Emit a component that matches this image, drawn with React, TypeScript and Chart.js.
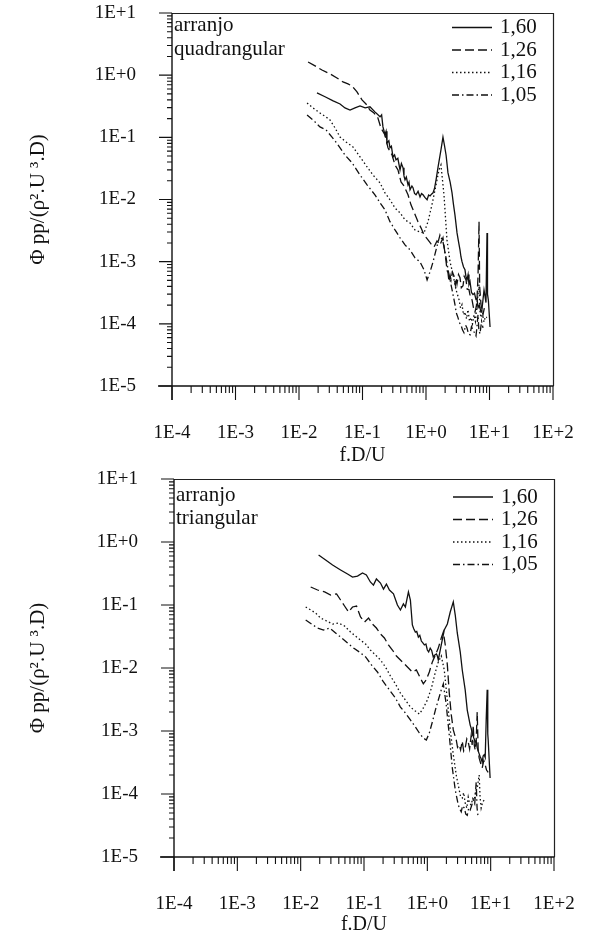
import React, { useEffect, useRef } from 'react';
import { Chart, registerables } from 'chart.js';

Chart.register(...registerables);

const serif = '"Liberation Serif", "Times New Roman", Times, serif';

// axis ticks
const xTickValues = [1e-4, 1e-3, 1e-2, 1e-1, 1, 10, 100];
const xTickLabels = ['1E-4', '1E-3', '1E-2', '1E-1', '1E+0', '1E+1', '1E+2'];
const yTickValues = [1e-5, 1e-4, 1e-3, 1e-2, 1e-1, 1, 10];
const yTickLabels = ['1E-5', '1E-4', '1E-3', '1E-2', '1E-1', '1E+0', '1E+1'];
const minorSteps = [2, 3, 4, 5, 6, 7, 8, 9];

// series (pitch ratios)
const seriesLabels = ['1,60', '1,26', '1,16', '1,05'];
const seriesDash: number[][] = [[], [9, 4], [1.5, 2.5], [7, 3, 1.5, 3]];

const xTitle = 'f.D/U';
const yTitle = 'Φ pp/(ρ².U ³.D)';

// ---- arranjo quadrangular: [f.D/U, Φpp] ----
const quad160: [number, number][] = [
  [0.0192, 0.52], [0.0257, 0.45], [0.0345, 0.385], [0.0443, 0.344], [0.053, 0.297], [0.0636, 0.275],
  [0.0762, 0.297], [0.0914, 0.32], [0.11, 0.297], [0.131, 0.31], [0.157, 0.257], [0.189, 0.214],
  [0.2, 0.23], [0.21, 0.147], [0.226, 0.11], [0.235, 0.125], [0.243, 0.081], [0.26, 0.088],
  [0.271, 0.068], [0.285, 0.072], [0.302, 0.0484], [0.32, 0.052], [0.337, 0.0433], [0.36, 0.046],
  [0.39, 0.0299], [0.41, 0.038], [0.435, 0.0323], [0.45, 0.024], [0.467, 0.0207], [0.49, 0.023],
  [0.521, 0.0172], [0.54, 0.019], [0.56, 0.0143], [0.6, 0.0165], [0.624, 0.0155], [0.66, 0.0125],
  [0.697, 0.0119], [0.75, 0.0135], [0.805, 0.011], [0.85, 0.0125], [0.898, 0.0119], [0.96, 0.0108],
  [1.04, 0.0099], [1.1, 0.0118], [1.16, 0.0114], [1.22, 0.0122], [1.29, 0.0128], [1.36, 0.015],
  [1.44, 0.0207], [1.55, 0.0334], [1.72, 0.0627], [1.85, 0.101], [1.95, 0.075], [2.07, 0.052],
  [2.22, 0.0268], [2.4, 0.019], [2.57, 0.0128], [2.7, 0.0085], [2.86, 0.0056], [3.08, 0.0029],
  [3.25, 0.0021], [3.43, 0.00155], [3.55, 0.0012], [3.69, 0.001], [3.9, 0.00082], [4.11, 0.00074],
  [4.25, 0.00058], [4.42, 0.00051], [4.6, 0.00062], [4.75, 0.00043], [4.93, 0.00048], [5.2, 0.00032],
  [5.5, 0.000295], [5.8, 0.00031], [6.13, 0.000245], [6.35, 0.00026], [6.59, 0.000182], [6.9, 0.0002],
  [7.35, 0.000155], [7.6, 0.00017], [7.9, 0.000245], [8.2, 0.00035], [8.5, 0.00028], [8.8, 0.00022],
  [9.14, 0.0029], [9.3, 0.0003], [9.6, 0.00024], [10.2, 0.000089],
];
const quad126: [number, number][] = [
  [0.0139, 1.63], [0.0179, 1.41], [0.023, 1.21], [0.0308, 1.05], [0.0396, 0.9], [0.0493, 0.777],
  [0.0591, 0.722], [0.0684, 0.67], [0.0819, 0.537], [0.0982, 0.4], [0.1135, 0.344], [0.131, 0.275],
  [0.152, 0.246], [0.175, 0.205], [0.195, 0.142], [0.226, 0.109], [0.252, 0.068], [0.292, 0.052],
  [0.325, 0.036], [0.362, 0.0299], [0.404, 0.0192], [0.45, 0.0166], [0.521, 0.0119], [0.58, 0.0082],
  [0.647, 0.0063], [0.748, 0.0044], [0.834, 0.0035], [0.93, 0.0027], [1.075, 0.00224], [1.2, 0.00193],
  [1.34, 0.00173], [1.49, 0.00216], [1.66, 0.00186], [1.85, 0.00242], [2.07, 0.001], [2.15, 0.00072],
  [2.22, 0.00066], [2.3, 0.00048], [2.4, 0.0006], [2.48, 0.00051], [2.6, 0.00068], [2.76, 0.00059],
  [2.9, 0.00042], [3.0, 0.00055], [3.08, 0.00044], [3.25, 0.00062], [3.43, 0.00055], [3.6, 0.00038],
  [3.83, 0.00041], [4.0, 0.00058], [4.27, 0.00051], [4.45, 0.00036], [4.75, 0.000355], [5.0, 0.00027],
  [5.3, 0.000245], [5.6, 0.00018], [5.91, 0.000155], [6.2, 0.00019], [6.35, 0.000245], [6.6, 0.0006],
  [6.84, 0.0044], [7.0, 0.0004], [7.35, 0.000204], [7.9, 0.00014], [8.3, 0.00018], [8.81, 0.000168],
];
const quad116: [number, number][] = [
  [0.0134, 0.357], [0.0166, 0.297], [0.0214, 0.246], [0.0266, 0.213], [0.0308, 0.19], [0.0369, 0.142],
  [0.0443, 0.101], [0.055, 0.0843], [0.0708, 0.07], [0.0914, 0.0484], [0.118, 0.0334], [0.146, 0.0248],
  [0.189, 0.0185], [0.226, 0.0128], [0.271, 0.0099], [0.325, 0.0073], [0.39, 0.0061], [0.467, 0.0047],
  [0.56, 0.0042], [0.671, 0.00324], [0.805, 0.003], [0.93, 0.0029], [1.075, 0.0044], [1.24, 0.0082],
  [1.44, 0.0172], [1.6, 0.0299], [1.72, 0.036], [1.92, 0.0119], [2.14, 0.00224], [2.39, 0.001],
  [2.66, 0.00062], [2.97, 0.000355], [3.31, 0.000245], [3.5, 0.00018], [3.69, 0.000204], [3.9, 0.00014],
  [4.11, 0.000155], [4.35, 0.00012], [4.58, 0.000168], [4.85, 0.00011], [5.11, 0.000126], [5.4, 0.0001],
  [5.7, 0.00014], [6.0, 0.00011], [6.35, 0.000204], [6.84, 0.00043], [7.1, 0.00015], [7.35, 0.000126],
  [7.8, 0.00014], [8.19, 0.000107], [8.6, 0.00013], [9.14, 0.000126],
];
const quad105: [number, number][] = [
  [0.0134, 0.229], [0.0172, 0.184], [0.0214, 0.147], [0.0266, 0.132], [0.0331, 0.101], [0.0411, 0.0758],
  [0.053, 0.052], [0.0684, 0.0389], [0.0914, 0.0248], [0.118, 0.0172], [0.157, 0.0119], [0.189, 0.0088],
  [0.226, 0.0068], [0.271, 0.0044], [0.325, 0.00324], [0.39, 0.00242], [0.467, 0.00186], [0.56, 0.00155],
  [0.671, 0.00115], [0.805, 0.00099], [0.93, 0.00074], [1.04, 0.00051], [1.16, 0.00069], [1.29, 0.00099],
  [1.44, 0.00155], [1.66, 0.0027], [1.85, 0.0021], [2.07, 0.00115], [2.3, 0.00062], [2.57, 0.000355],
  [2.86, 0.000204], [3.0, 0.00015], [3.19, 0.000126], [3.35, 0.000105], [3.56, 0.000096], [3.75, 0.00008],
  [3.96, 0.000072], [4.2, 0.000095], [4.42, 0.000086], [4.65, 0.00007], [4.93, 0.0000665], [5.2, 0.00009],
  [5.5, 0.000079], [5.8, 0.000072], [6.13, 0.000064], [6.35, 0.00009], [6.59, 0.00014], [6.8, 0.00008],
  [7.08, 0.000069], [7.5, 0.00011], [7.9, 0.000086],
];

// ---- arranjo triangular: [f.D/U, Φpp] ----
const tri160: [number, number][] = [
  [0.0192, 0.62], [0.0248, 0.518], [0.0319, 0.431], [0.0427, 0.36], [0.055, 0.31], [0.0659, 0.278],
  [0.079, 0.288], [0.0947, 0.322], [0.109, 0.299], [0.126, 0.232], [0.141, 0.207], [0.157, 0.259],
  [0.182, 0.223], [0.203, 0.179], [0.226, 0.215], [0.252, 0.173], [0.292, 0.15], [0.337, 0.1],
  [0.376, 0.0834], [0.419, 0.104], [0.45, 0.093], [0.503, 0.161], [0.54, 0.12], [0.58, 0.0482],
  [0.61, 0.042], [0.647, 0.0372], [0.68, 0.038], [0.722, 0.031], [0.76, 0.033], [0.805, 0.0268],
  [0.85, 0.025], [0.898, 0.0232], [0.95, 0.024], [1.0, 0.0193], [1.05, 0.018], [1.11, 0.0207],
  [1.17, 0.019], [1.24, 0.015], [1.3, 0.016], [1.39, 0.0167], [1.44, 0.0155], [1.49, 0.0134],
  [1.66, 0.0232], [1.85, 0.0401], [2.07, 0.0499], [2.3, 0.0775], [2.57, 0.112], [2.76, 0.0693],
  [2.97, 0.036], [3.31, 0.0179], [3.56, 0.0093], [3.96, 0.0045], [4.27, 0.00215], [4.75, 0.00124],
  [4.93, 0.0011], [5.11, 0.00093], [5.4, 0.00078], [5.7, 0.00067], [5.9, 0.0007], [6.13, 0.00054],
  [6.5, 0.00045], [6.84, 0.00039], [7.1, 0.00036], [7.35, 0.00032], [7.6, 0.0004], [7.9, 0.00042],
  [8.2, 0.00038], [8.5, 0.0015], [8.81, 0.0045], [9.0, 0.0009], [9.14, 0.00072], [9.8, 0.00018],
];
const tri126: [number, number][] = [
  [0.0144, 0.193], [0.0185, 0.173], [0.0239, 0.161], [0.0297, 0.144], [0.0369, 0.15], [0.0427, 0.12],
  [0.0493, 0.0964], [0.057, 0.0775], [0.0659, 0.093], [0.0762, 0.0964], [0.0881, 0.0646], [0.102, 0.0537],
  [0.118, 0.0622], [0.136, 0.0499], [0.157, 0.0431], [0.182, 0.0347], [0.21, 0.03], [0.243, 0.0232],
  [0.281, 0.0193], [0.325, 0.0155], [0.376, 0.0134], [0.435, 0.0116], [0.503, 0.01], [0.58, 0.00865],
  [0.671, 0.0093], [0.776, 0.0069], [0.865, 0.0056], [0.964, 0.0065], [1.075, 0.00865], [1.2, 0.0125],
  [1.34, 0.0161], [1.49, 0.0207], [1.66, 0.03], [1.79, 0.0373], [1.92, 0.0232], [2.07, 0.0112],
  [2.22, 0.004], [2.39, 0.0018], [2.57, 0.00104], [2.86, 0.00072], [3.0, 0.00055], [3.19, 0.0006],
  [3.35, 0.0005], [3.56, 0.00069], [3.75, 0.00048], [3.96, 0.00054], [4.2, 0.00075], [4.42, 0.00067],
  [4.65, 0.00052], [4.93, 0.00086], [5.1, 0.0006], [5.3, 0.00124], [5.5, 0.0006], [5.7, 0.0005],
  [5.9, 0.0007], [6.13, 0.002], [6.35, 0.0005], [6.59, 0.00037], [7.0, 0.0003], [7.35, 0.00026],
  [7.8, 0.00034], [8.19, 0.00029], [8.6, 0.00024], [9.14, 0.00022],
];
const tri116: [number, number][] = [
  [0.012, 0.093], [0.0144, 0.0834], [0.0172, 0.0746], [0.0206, 0.0622], [0.0257, 0.0557], [0.0319, 0.0499],
  [0.0396, 0.0518], [0.0493, 0.0464], [0.0612, 0.0373], [0.0734, 0.0322], [0.0881, 0.0278], [0.106, 0.024],
  [0.126, 0.0193], [0.152, 0.0161], [0.182, 0.0134], [0.218, 0.0104], [0.261, 0.0075], [0.313, 0.0056],
  [0.376, 0.004], [0.45, 0.0031], [0.54, 0.0024], [0.647, 0.00207], [0.748, 0.00186], [0.865, 0.00232],
  [1.0, 0.0031], [1.16, 0.0048], [1.34, 0.00865], [1.49, 0.0125], [1.66, 0.0155], [1.85, 0.0093],
  [2.07, 0.0031], [2.3, 0.00104], [2.57, 0.00042], [2.86, 0.0002], [3.19, 0.000116], [3.35, 0.00009],
  [3.56, 0.000086], [3.75, 0.000105], [3.96, 0.000072], [4.2, 0.00006], [4.42, 0.000089], [4.65, 0.00007],
  [4.93, 0.000067], [5.2, 0.000085], [5.5, 0.00008], [5.8, 0.00011], [6.13, 0.000124], [6.59, 0.0002],
  [6.8, 0.00009], [7.08, 0.00006], [7.5, 0.000075], [7.9, 0.00008],
];
const tri105: [number, number][] = [
  [0.012, 0.0578], [0.0149, 0.0499], [0.0185, 0.0431], [0.023, 0.0401], [0.0286, 0.0431], [0.0356, 0.036],
  [0.0443, 0.03], [0.055, 0.0249], [0.0684, 0.0207], [0.0849, 0.0179], [0.106, 0.015], [0.131, 0.0112],
  [0.163, 0.00865], [0.203, 0.006], [0.252, 0.0045], [0.313, 0.00334], [0.376, 0.0024], [0.45, 0.00193],
  [0.54, 0.0015], [0.647, 0.00116], [0.748, 0.00093], [0.865, 0.00077], [0.964, 0.00072], [1.075, 0.00093],
  [1.2, 0.00139], [1.34, 0.00215], [1.49, 0.0031], [1.66, 0.0045], [1.79, 0.0056], [1.99, 0.00259],
  [2.22, 0.00086], [2.48, 0.00026], [2.76, 0.000116], [3.08, 0.000067], [3.25, 0.000058], [3.43, 0.000052],
  [3.6, 0.000065], [3.83, 0.00006], [4.05, 0.000048], [4.27, 0.000046], [4.5, 0.00006], [4.75, 0.000056],
  [5.0, 0.000065], [5.3, 0.00008], [5.6, 0.00007], [5.91, 0.000155], [6.1, 0.00006], [6.35, 0.000042],
];

type PanelDef = {
  series: [number, number][][];
  notes: string[];
  padTop: number;
  padRight: number;
  yWidth: number;
  xHeight: number;
  notesY: number[];
  legendY: number[];
};

const topPanel: PanelDef = {
  series: [quad160, quad126, quad116, quad105],
  notes: ['arranjo', 'quadrangular'],
  padTop: 13,
  padRight: 37,
  yWidth: 172,
  xHeight: 83,
  notesY: [25, 49.5],
  legendY: [27.5, 50, 72.5, 95],
};

const bottomPanel: PanelDef = {
  series: [tri160, tri126, tri116, tri105],
  notes: ['arranjo', 'triangular'],
  padTop: 10,
  padRight: 36,
  yWidth: 174,
  xHeight: 81,
  notesY: [26, 49],
  legendY: [28, 50.5, 73, 95.5],
};

function makeFramePlugin(panel: PanelDef) {
  return {
    id: 'frameAxes',
    afterDraw(chart: any) {
      const { ctx, chartArea } = chart;
      const { left, right, top, bottom } = chartArea;
      const xs = chart.scales.x;
      const ys = chart.scales.y;
      ctx.save();
      ctx.setLineDash([]);
      ctx.strokeStyle = '#222';
      // top and right border
      ctx.lineWidth = 1.2;
      ctx.beginPath();
      ctx.moveTo(left, top + 0.5);
      ctx.lineTo(right + 0.5, top + 0.5);
      ctx.lineTo(right + 0.5, bottom);
      ctx.stroke();
      // main axes
      ctx.strokeStyle = '#111';
      ctx.lineWidth = 1.4;
      ctx.beginPath();
      ctx.moveTo(left, top);
      ctx.lineTo(left, bottom + 14);
      ctx.moveTo(left - 14, bottom);
      ctx.lineTo(right + 0.5, bottom);
      ctx.stroke();
      // y ticks
      ctx.lineWidth = 1.1;
      ctx.beginPath();
      yTickValues.forEach((v, i) => {
        const p = ys.getPixelForValue(v);
        ctx.moveTo(left - 13, p);
        ctx.lineTo(left, p);
        if (i < yTickValues.length - 1) {
          minorSteps.forEach((m) => {
            const q = ys.getPixelForValue(v * m);
            ctx.moveTo(left - 5, q);
            ctx.lineTo(left, q);
          });
        }
      });
      // x ticks
      xTickValues.forEach((v, i) => {
        const p = xs.getPixelForValue(v);
        ctx.moveTo(p, bottom);
        ctx.lineTo(p, bottom + 14);
        if (i < xTickValues.length - 1) {
          minorSteps.forEach((m) => {
            const q = xs.getPixelForValue(v * m);
            ctx.moveTo(q, bottom);
            ctx.lineTo(q, bottom + 7);
          });
        }
      });
      ctx.stroke();

      // notes
      ctx.fillStyle = '#111';
      ctx.font = `21px ${serif}`;
      ctx.textBaseline = 'middle';
      ctx.textAlign = 'left';
      panel.notes.forEach((t, i) => ctx.fillText(t, left + 2, panel.notesY[i]));

      // legend
      seriesLabels.forEach((label, i) => {
        const yy = panel.legendY[i];
        ctx.setLineDash(seriesDash[i]);
        ctx.lineWidth = 1.3;
        ctx.beginPath();
        ctx.moveTo(right - 101, yy);
        ctx.lineTo(right - 61, yy);
        ctx.stroke();
        ctx.setLineDash([]);
        ctx.fillText(label, right - 53, yy);
      });
      ctx.restore();
    },
  };
}

function buildConfig(panel: PanelDef): any {
  const tickFont = { family: serif, size: 19 };
  const titleFont = { family: serif, size: 20 };
  return {
    type: 'line',
    data: {
      datasets: panel.series.map((pts, i) => ({
        label: seriesLabels[i],
        data: pts.map(([x, y]) => ({ x, y })),
        borderColor: '#111',
        borderWidth: 1.3,
        borderDash: seriesDash[i],
        pointRadius: 0,
        fill: false,
        tension: 0,
      })),
    },
    options: {
      responsive: false,
      animation: false,
      devicePixelRatio: 1,
      layout: { padding: { top: panel.padTop, right: panel.padRight, left: 0, bottom: 0 } },
      plugins: { legend: { display: false }, tooltip: { enabled: false } },
      scales: {
        x: {
          type: 'logarithmic',
          min: 1e-4,
          max: 100,
          afterBuildTicks: (s: any) => {
            s.ticks = xTickValues.map((value) => ({ value }));
          },
          afterFit: (s: any) => {
            s.height = panel.xHeight;
            s.paddingLeft = 0;
            s.paddingRight = 0;
            s.paddingTop = 0;
            s.paddingBottom = 0;
          },
          grid: { display: false, drawTicks: false },
          border: { display: false },
          ticks: {
            autoSkip: false,
            maxRotation: 0,
            minRotation: 0,
            padding: 36,
            color: '#111',
            font: tickFont,
            callback: (_v: any, i: number) => xTickLabels[i],
          },
          title: { display: true, text: xTitle, color: '#111', font: titleFont, padding: { top: 0, bottom: 1 } },
        },
        y: {
          type: 'logarithmic',
          min: 1e-5,
          max: 10,
          afterBuildTicks: (s: any) => {
            s.ticks = yTickValues.map((value) => ({ value }));
          },
          afterFit: (s: any) => {
            s.width = panel.yWidth;
            s.paddingLeft = 0;
            s.paddingRight = 0;
            s.paddingTop = 0;
            s.paddingBottom = 0;
          },
          grid: { display: false, drawTicks: false },
          border: { display: false },
          ticks: {
            autoSkip: false,
            padding: 36,
            color: '#111',
            font: tickFont,
            callback: (_v: any, i: number) => yTickLabels[i],
          },
          title: { display: true, text: yTitle, color: '#111', font: { family: serif, size: 21 }, padding: { top: 26, bottom: 0 } },
        },
      },
    },
    plugins: [makeFramePlugin(panel)],
  };
}

function Panel({ panel }: { panel: PanelDef }) {
  const ref = useRef<HTMLCanvasElement>(null);
  useEffect(() => {
    if (!ref.current) return;
    const chart = new Chart(ref.current, buildConfig(panel));
    return () => chart.destroy();
  }, [panel]);
  return <canvas ref={ref} width={590} height={469} style={{ display: 'block', width: 590, height: 469 }} />;
}

export default function App() {
  return (
    <div style={{ position: 'absolute', left: 0, top: 0, width: 590, height: 938, background: '#fff' }}>
      <Panel panel={topPanel} />
      <Panel panel={bottomPanel} />
    </div>
  );
}
